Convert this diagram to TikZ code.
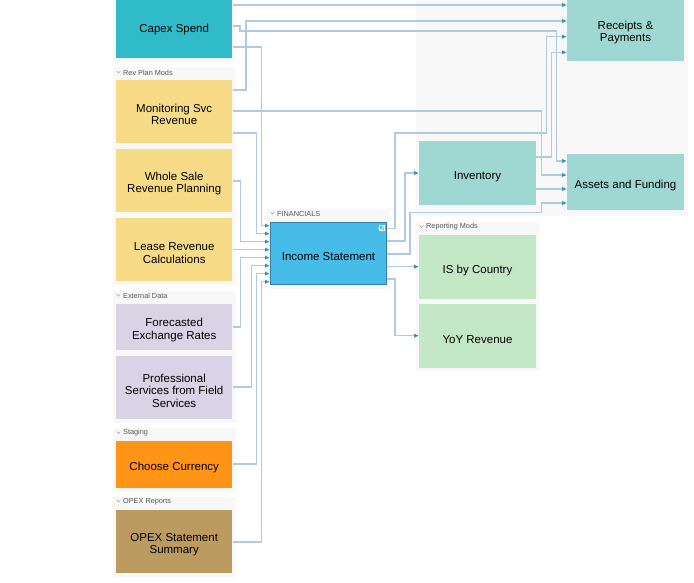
\documentclass[tikz,border=0pt]{standalone}
\usepackage{fontspec}
\setmainfont{Liberation Sans}
\usetikzlibrary{arrows.meta}
\definecolor{panelgray}{HTML}{F8F8F8}
\definecolor{capexcol}{HTML}{30BBC9}
\definecolor{revcol}{HTML}{F8DB87}
\definecolor{extcol}{HTML}{D9D3E6}
\definecolor{stagecol}{HTML}{FF9416}
\definecolor{opexcol}{HTML}{BB9B60}
\definecolor{fincol}{HTML}{47BCE8}
\definecolor{finedge}{HTML}{2F7FA8}
\definecolor{tealcol}{HTML}{9FD8D3}
\definecolor{greencol}{HTML}{C4E8C6}
\definecolor{wirecol}{HTML}{AFCAE3}
\definecolor{tipcol}{HTML}{3F8FBF}
\definecolor{headcol}{HTML}{555555}
\newcommand{\modstrut}{\rule{0pt}{14.5pt}}
\tikzset{
  panel/.style={fill=panelgray,draw=none},
  modbox/.style={inner sep=0pt,minimum width=116.5pt,minimum height=63pt,align=center,font=\fontsize{11.5}{12.6}\selectfont},
  head/.style={inner sep=0pt,anchor=west,text=headcol,font=\fontsize{7.3}{9}\selectfont},
  chev/.style={draw=gray!70,line width=0.5pt},
  wire/.style={draw=wirecol,line width=1.1pt},
  wirein/.style={wire,-{Latex[length=5pt,width=4.5pt,color=tipcol]}}
}
\begin{document}
\begin{tikzpicture}[x=1pt,y=-1pt]
                \useasboundingbox (0,0) rectangle (694,582);
                \clip (0,0) rectangle (694,582);
                % panels
                \fill [panel] (416,0) rectangle (688,216);
                \fill [panel] (113,0) rectangle (236,62);
                \fill [panel] (113,67) rectangle (236,285);
                \fill [panel] (113,291) rectangle (236,423);
                \fill [panel] (113,428) rectangle (236,492);
                \fill [panel] (113,497) rectangle (236,577);
                \fill [panel] (267,209) rectangle (390,289);
                \fill [panel] (416,222) rectangle (539,371);
                % group headings
                \node [head] (hrev) at (123,72.5) {Rev Plan Mods};
                \draw [chev] (116.5,71) -- (118.5,73) -- (120.5,71);
                \node [head] (hext) at (123,295.5) {External Data};
                \draw [chev] (116.5,294) -- (118.5,296) -- (120.5,294);
                \node [head] (hstage) at (123,433) {Staging};
                \draw [chev] (116.5,431.5) -- (118.5,433.5) -- (120.5,431.5);
                \node [head] (hopex) at (123,501.5) {OPEX Reports};
                \draw [chev] (116.5,500) -- (118.5,502) -- (120.5,500);
                \node [head] (hfin) at (277,213.5) {FINANCIALS};
                \draw [chev] (270.5,212) -- (272.5,214) -- (274.5,212);
                \node [head] (hrep) at (426,227) {Reporting Mods};
                \draw [chev] (419.5,225.5) -- (421.5,227.5) -- (423.5,225.5);
                % left column
                \node [modbox,fill=capexcol,minimum height=64pt] (capex) at (174.2,26) {\modstrut Capex Spend};
                \node [modbox,fill=revcol] (monitor) at (174.2,111.5) {\modstrut Monitoring Svc\\Revenue};
                \node [modbox,fill=revcol] (whole) at (174.2,180.5) {\modstrut Whole Sale\\Revenue Planning};
                \node [modbox,fill=revcol] (lease) at (174.2,249.5) {\modstrut Lease Revenue\\Calculations};
                \node [modbox,fill=extcol,minimum height=46pt] (forecast) at (174.2,327) {\modstrut Forecasted\\Exchange Rates};
                \node [modbox,fill=extcol] (prof) at (174.2,387.5) {\modstrut Professional\\Services from Field\\Services};
                \node [modbox,fill=stagecol,minimum height=47pt] (currency) at (174.2,464.5) {\modstrut Choose Currency};
                \node [modbox,fill=opexcol] (opex) at (174.2,541.5) {\modstrut OPEX Statement\\Summary};
                % middle and right
                \node [modbox,fill=fincol,draw=finedge,line width=1pt,minimum width=116pt,minimum height=62pt] (income) at (328.5,253.5) {\modstrut Income Statement};
                \node [modbox,fill=tealcol,minimum height=64pt] (inventory) at (477.5,173) {\modstrut Inventory};
                \node [modbox,fill=greencol,minimum height=64pt] (country) at (477.5,267) {\modstrut IS by Country};
                \node [modbox,fill=greencol,minimum height=64pt] (yoy) at (477.5,336) {\modstrut YoY Revenue};
                \node [modbox,fill=tealcol,minimum height=62.5pt] (receipts) at (625.5,29.25) {\modstrut Receipts \&\\Payments};
                \node [modbox,fill=tealcol,minimum height=56pt] (assets) at (625.5,182) {\modstrut Assets and Funding};
                % tick mark on the income box
                \node [inner sep=0pt,draw=white,line width=0.5pt,minimum size=5pt] (tick) at (381.3,228) {};
                \draw [white,line width=0.8pt] (tick.west) -- (tick.south) -- (tick.north east);
                % into receipts
                \draw [wirein] (capex.east |- 0,5) -- (receipts.west |- 0,5);
                \draw [wirein] (monitor.east |- 0,90) -- (246,90) -- (246,21) -- (receipts.west |- 0,21);
                \draw [wirein] (income.east |- 0,228.5) -- (395,228.5) -- (395,133) -- (546.7,133) -- (546.7,36.7) -- (receipts.west |- 0,36.7);
                \draw [wirein] (inventory.east |- 0,157) -- (551.7,157) -- (551.7,52.3) -- (receipts.west |- 0,52.3);
                % into assets
                \draw [wirein] (capex.east |- 0,26) -- (240,26) -- (240,31) -- (556.7,31) -- (556.7,161) -- (assets.west |- 0,161);
                \draw [wirein] (monitor.east |- 0,111) -- (541.5,111) -- (541.5,175) -- (assets.west |- 0,175);
                \draw [wirein] (inventory.east |- 0,189) -- (assets.west |- 0,189);
                \draw [wirein] (income.east |- 0,254) -- (410,254) -- (410,212.5) -- (541.5,212.5) -- (541.5,203) -- (assets.west |- 0,203);
                % into income
                \draw [wirein] (capex.east |- 0,47) -- (261.7,47) -- (261.7,225.7) -- (income.west |- 0,225.7);
                \draw [wirein] (monitor.east |- 0,133) -- (256.7,133) -- (256.7,233.7) -- (income.west |- 0,233.7);
                \draw [wirein] (whole.east |- 0,181) -- (240.7,181) -- (240.7,241.7) -- (income.west |- 0,241.7);
                \draw [wirein] (lease.east |- 0,249.7) -- (income.west |- 0,249.7);
                \draw [wirein] (forecast.east |- 0,327) -- (240.7,327) -- (240.7,257.7) -- (income.west |- 0,257.7);
                \draw [wirein] (prof.east |- 0,387) -- (251.7,387) -- (251.7,265.7) -- (income.west |- 0,265.7);
                \draw [wirein] (currency.east |- 0,464) -- (256.7,464) -- (256.7,273.7) -- (income.west |- 0,273.7);
                \draw [wirein] (opex.east |- 0,542) -- (261.7,542) -- (261.7,281.7) -- (income.west |- 0,281.7);
                % out of income
                \draw [wirein] (income.east |- 0,241) -- (405,241) -- (405,173) -- (inventory.west |- 0,173);
                \draw [wirein] (income.east |- 0,266.7) -- (country.west |- 0,266.7);
                \draw [wirein] (income.east |- 0,279) -- (395,279) -- (395,335.7) -- (yoy.west |- 0,335.7);
            \end{tikzpicture}
\end{document}
